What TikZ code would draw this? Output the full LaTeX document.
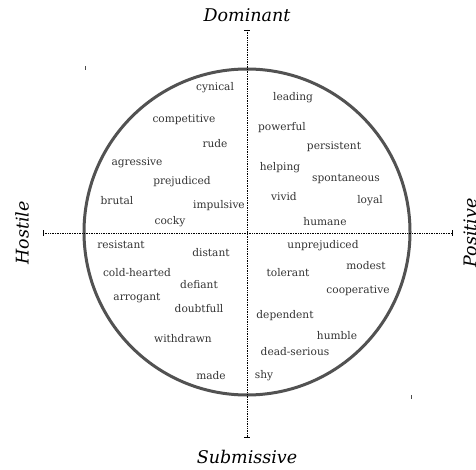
\documentclass[tikz,border=0pt]{standalone}
\usepackage{fontspec}
\setmainfont{DejaVu Serif}
\begin{document}
\begin{tikzpicture}[x=1pt,y=-1pt,
  word/.style={font=\fontsize{10.6}{12}\selectfont, text=black!80, inner sep=0pt},
  pole/.style={font=\fontsize{17.5}{20}\selectfont\itshape, text=black, inner sep=0pt},
  axis/.style={densely dotted, line width=0.7pt, black},
  endbar/.style={line width=0.6pt, black}]
\useasboundingbox (0,0) rectangle (476,470);
% circle
\draw[line width=3pt, black!68] (247,232) circle[radius=163pt];
% axes
\coordinate (vt) at (247,30);
\coordinate (vb) at (247,437);
\coordinate (hl) at (43,233);
\coordinate (hr) at (452,233);
\draw[axis] (vt) -- (vb);
\draw[axis] (hl) -- (hr);
\draw[endbar] ([xshift=-3pt]vt) -- ([xshift=3pt]vt);
\draw[endbar] ([xshift=-3pt]vb) -- ([xshift=3pt]vb);
\draw[endbar] ([yshift=-3pt]hl) -- ([yshift=3pt]hl);
\draw[endbar] ([yshift=-3pt]hr) -- ([yshift=3pt]hr);
% small marks
\coordinate (m1) at (85,66);
\coordinate (m2) at (411,395);
\draw[line width=0.5pt, black!70] (m1) -- ++(0,4);
\draw[line width=0.5pt, black!70] (m2) -- ++(0,4);
% poles
\node[pole] (dom) at (247,15) {Dominant};
\node[pole] (sub) at (247,457) {Submissive};
\node[pole, rotate=90] (hos) at (22,233) {Hostile};
\node[pole, rotate=90] (pos) at (470,233) {Positive};
% words
\node[word] (w1) at (215,88) {cynical};
\node[word] (w2) at (293,98) {leading};
\node[word] (w3) at (184,120) {competitive};
\node[word] (w4) at (282,128) {powerful};
\node[word] (w5) at (215,144) {rude};
\node[word] (w6) at (334,147) {persistent};
\node[word] (w7) at (137,163) {agressive};
\node[word] (w8) at (280,168) {helping};
\node[word] (w9) at (182,182) {prejudiced};
\node[word] (w10) at (346,179) {spontaneous};
\node[word] (w11) at (117,201) {brutal};
\node[word] (w12) at (219,206) {impulsive};
\node[word] (w13) at (284,197) {vivid};
\node[word] (w14) at (370,201) {loyal};
\node[word] (w15) at (170,222) {cocky};
\node[word] (w16) at (325,222) {humane};
\node[word] (w17) at (121,245) {resistant};
\node[word] (w18) at (211,253) {distant};
\node[word] (w19) at (323,246) {unprejudiced};
\node[word] (w20) at (137,273) {cold-hearted};
\node[word] (w21) at (366,266) {modest};
\node[word] (w22) at (288,273) {tolerant};
\node[word] (w23) at (199,285) {defiant};
\node[word] (w24) at (358,291) {cooperative};
\node[word] (w25) at (137,298) {arrogant};
\node[word] (w26) at (199,309) {doubtfull};
\node[word] (w27) at (285,316) {dependent};
\node[word] (w28) at (337,336) {humble};
\node[word] (w29) at (183,339) {withdrawn};
\node[word] (w30) at (295,352) {dead-serious};
\node[word] (w31) at (211,376) {made};
\node[word] (w32) at (264,376) {shy};
\end{tikzpicture}
\end{document}
